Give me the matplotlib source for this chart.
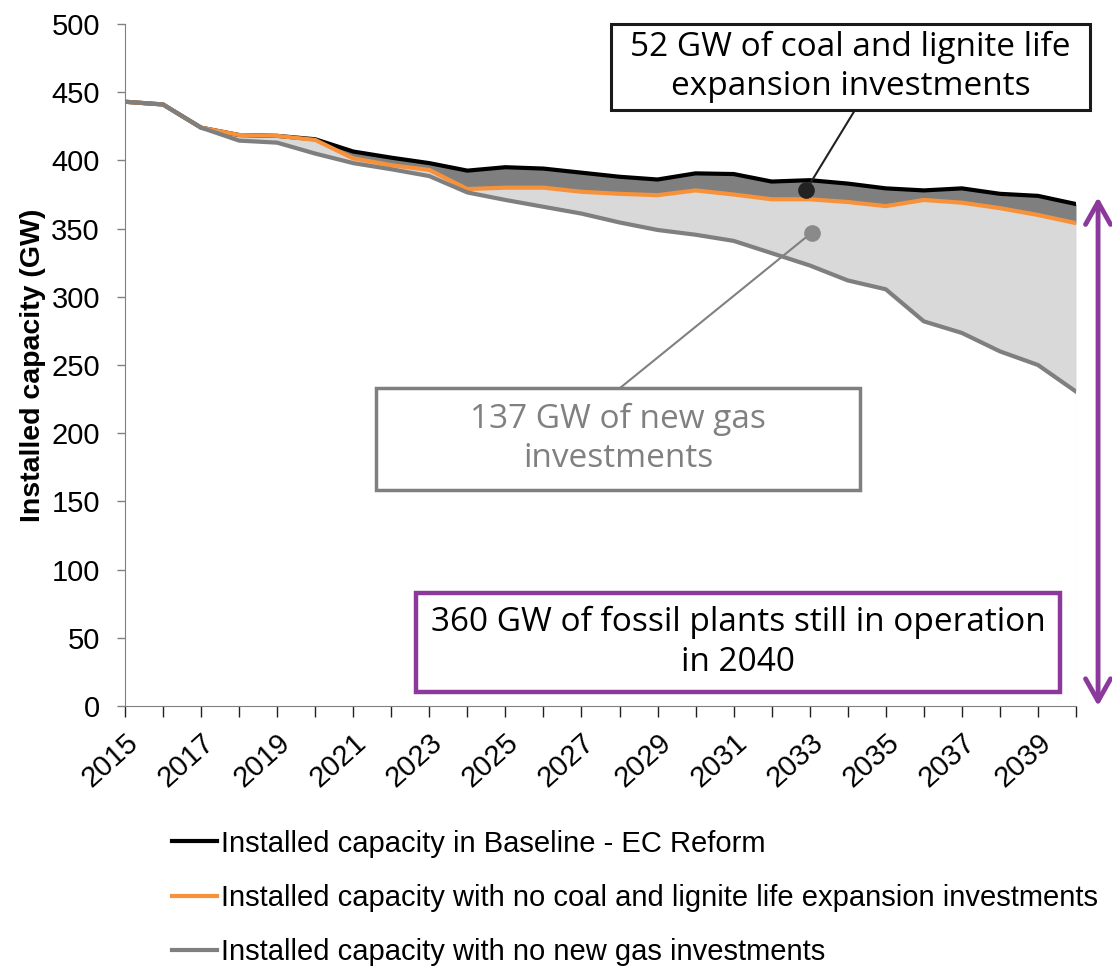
import numpy as np
import matplotlib
matplotlib.use("Agg")
import matplotlib.pyplot as plt
from matplotlib.patches import Rectangle
from matplotlib.lines import Line2D

# --- data ---
years = list(range(2015, 2041))
baseline = [443, 441, 424, 418.6, 418, 415.5, 406.5, 402, 398, 392.5, 395, 394, 391,
            388, 386, 390.5, 390, 384.5, 385.5, 383, 379.5, 378, 379.5, 375.5, 374, 368]
no_coal = [443, 441, 424, 418.6, 418, 415, 401.5, 396.5, 393, 379, 380, 380, 377,
           375.5, 374.5, 378, 375, 371.5, 371.5, 369.5, 366.5, 371, 369, 365, 360, 354]
no_gas = [443, 441, 424, 414.5, 413, 405, 398, 393.5, 388.5, 376.5, 371, 366, 361,
          354.5, 349, 345.5, 341, 332, 323, 312, 305.5, 282, 273.5, 260, 250, 230.5]
legend_labels = ["Installed capacity in Baseline - EC Reform",
                 "Installed capacity with no coal and lignite life expansion investments",
                 "Installed capacity with no new gas investments"]
box_coal = "52 GW of coal and lignite life\nexpansion investments"
box_gas = "137 GW of new gas\ninvestments"
box_total = "360 GW of fossil plants still in operation\nin 2040"

W, H = 1112, 966
plt.rcParams['font.family'] = ['Liberation Sans', 'DejaVu Sans']
fig = plt.figure(figsize=(W / 100, H / 100), dpi=100)
ax = fig.add_axes([125 / W, 1 - 706 / H, (1076 - 125) / W, (706 - 24) / H])

def fx(x): return x / W
def fy(y): return 1 - y / H

ORANGE = "#f7923a"
GRAY = "#7f7f7f"
PURPLE = "#8b3a9c"

ax.fill_between(years, no_coal, baseline, color="#7f7f7f", lw=0)
ax.fill_between(years, no_gas, no_coal, color="#d9d9d9", lw=0)
ax.plot([2040, 2040], [0, no_coal[-1]], color="#cfcfcf", lw=0.8)
# drawn bottom-up so that the gray line shows where all three coincide
ax.plot(years, baseline, color="black", lw=3, solid_joinstyle="round")
ax.plot(years, no_coal, color=ORANGE, lw=3, solid_joinstyle="round")
ax.plot(years, no_gas, color=GRAY, lw=3, solid_joinstyle="round")

ax.set_xlim(2015, 2040)
ax.set_ylim(0, 500)
ax.set_yticks(range(0, 501, 50))
ax.set_xticks(years)
ax.set_xticklabels([str(y) if (y - 2015) % 2 == 0 else "" for y in years],
                   rotation=42, ha="right", rotation_mode="anchor")
ax.tick_params(axis="y", labelsize=21, length=6, width=1, color="#808080", pad=12)
ax.tick_params(axis="x", labelsize=21, length=8, width=1, color="#202020", pad=8)
for s in ["top", "right"]:
    ax.spines[s].set_visible(False)
ax.spines["left"].set_color("#808080")
ax.spines["bottom"].set_color("#808080")
ax.set_ylabel("Installed capacity (GW)", fontsize=20.5, fontweight="bold", labelpad=4)

# annotation boxes
def box(x0, y0, x1, y1, ec, lw, text, tc):
    fig.add_artist(Rectangle((fx(x0), fy(y1)), fx(x1) - fx(x0), fy(y0) - fy(y1),
                             transform=fig.transFigure, fill=True, fc="white",
                             ec=ec, lw=lw, zorder=5))
    fig.text(fx((x0 + x1) / 2), fy((y0 + y1) / 2), text, ha="center", va="center",
             fontsize=24, color=tc, family=["Open Sans", "DejaVu Sans"],
             linespacing=1.25, zorder=6)

# leader lines and dots
ax.annotate("", xy=(2032.9, 378), xycoords="data", xytext=(fx(855), fy(110)),
            textcoords="figure fraction",
            arrowprops=dict(arrowstyle="-", color="#222222", lw=1.5, shrinkA=0, shrinkB=0))
ax.annotate("", xy=(2033.05, 347), xycoords="data", xytext=(fx(620), fy(388)),
            textcoords="figure fraction",
            arrowprops=dict(arrowstyle="-", color="#808080", lw=1.5, shrinkA=0, shrinkB=0))
ax.plot([2032.9], [378], "o", color="#222222", ms=11, zorder=7)
ax.plot([2033.05], [347], "o", color="#8a8a8a", ms=11, zorder=7)

box(611, 24, 1090, 110, "#1a1a1a", 2.2, box_coal, "black")
box(376, 388, 860, 490, GRAY, 2.5, box_gas, "#808080")
box(416, 593, 1060, 692, PURPLE, 3.2, box_total, "black")

# purple double arrow
ax.annotate("", xy=(2040.58, 0), xycoords="data", xytext=(2040.58, 373),
            arrowprops=dict(arrowstyle="<->,head_length=1.6,head_width=0.9",
                            color=PURPLE, lw=3.5, shrinkA=0, shrinkB=0),
            annotation_clip=False)

handles = [Line2D([], [], color=c, lw=3) for c in ["black", ORANGE, GRAY]]
fig.legend(handles, legend_labels, loc="upper left", bbox_to_anchor=(fx(160), fy(818)),
           frameon=False, fontsize=21, handlelength=1.55, handletextpad=0.15,
           labelspacing=0.9, borderaxespad=0)

fig.savefig("out.png", dpi=100)
